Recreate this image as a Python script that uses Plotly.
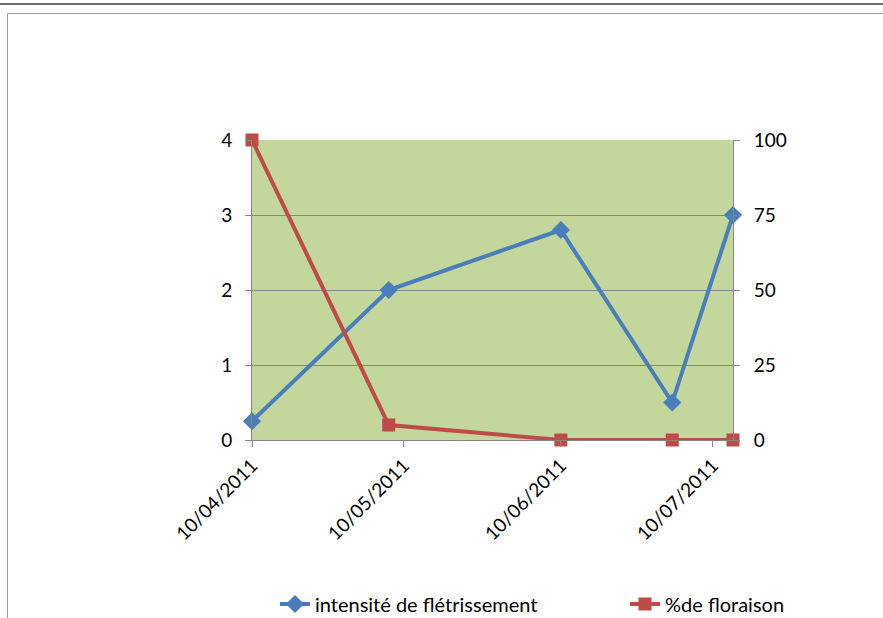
import plotly.graph_objects as go

dates = ["2011-04-10", "2011-05-07", "2011-06-10", "2011-07-02", "2011-07-14"]
intensite = [0.25, 2.0, 2.8, 0.5, 3.0]
floraison = [100, 5, 0, 0, 0]
x_ticks = ["2011-04-10", "2011-05-10", "2011-06-10", "2011-07-10"]
x_ticktext = ["10/04/2011", "10/05/2011", "10/06/2011", "10/07/2011"]
left_ticks = [0, 1, 2, 3, 4]
right_ticks = [0, 25, 50, 75, 100]

FONT = "Lato, Carlito, Calibri, sans-serif"
AXIS = "#868686"
FS = 19
LFS = 20

fig = go.Figure()
fig.add_trace(go.Scatter(
    x=dates, y=intensite, name="intensité de flétrissement",
    mode="lines+markers", line=dict(color="#4A7EBB", width=4),
    marker=dict(symbol="diamond", size=14, color="#4A7EBB"),
    cliponaxis=False, yaxis="y", legend="legend"))
fig.add_trace(go.Scatter(
    x=dates, y=floraison, name="%de floraison",
    mode="lines+markers", line=dict(color="#BE4B48", width=4),
    marker=dict(symbol="square", size=13, color="#BE4B48"),
    cliponaxis=False, yaxis="y2", legend="legend2"))

leg_y = 1 - 604 / 618.0
fig.update_layout(
    width=883, height=618,
    margin=dict(l=252, r=150, t=140, b=178, autoexpand=False),
    paper_bgcolor="white", plot_bgcolor="#C3D69B",
    font=dict(family=FONT, size=FS, color="black"),
    showlegend=True,
    legend=dict(xref="container", yref="container", x=275 / 883.0, y=leg_y,
                xanchor="left", yanchor="middle", font=dict(size=LFS),
                bgcolor="rgba(0,0,0,0)"),
    legend2=dict(xref="container", yref="container", x=625 / 883.0, y=leg_y,
                 xanchor="left", yanchor="middle", font=dict(size=LFS),
                 bgcolor="rgba(0,0,0,0)"),
    xaxis=dict(type="date", range=["2011-04-10", "2011-07-14"],
               tickvals=x_ticks, ticktext=x_ticktext, tickangle=-45,
               showgrid=False, showline=True, linecolor=AXIS, linewidth=1,
               ticks="outside", ticklen=6, tickcolor=AXIS, zeroline=False,
               tickfont=dict(size=FS)),
    yaxis=dict(range=[0, 4], tickvals=left_ticks, showgrid=True, gridcolor=AXIS,
               gridwidth=1, showline=True, linecolor=AXIS, ticks="outside",
               ticklen=6, tickcolor=AXIS, zeroline=False, ticklabelstandoff=9,
               tickfont=dict(size=FS)),
    yaxis2=dict(range=[0, 100], tickvals=right_ticks, overlaying="y", side="right",
                showgrid=False, showline=True, linecolor=AXIS, ticks="outside",
                ticklen=6, tickcolor=AXIS, zeroline=False, ticklabelstandoff=10,
                tickfont=dict(size=FS)),
)

W, H = 481.0, 300.0
def px(x):
    return (x - 252) / W
def py(y):
    return (440 - y) / H

fig.add_shape(type="line", xref="paper", yref="paper",
              x0=px(0), x1=px(883), y0=py(4), y1=py(4),
              line=dict(color="#6e6e6e", width=2))
fig.add_shape(type="rect", xref="paper", yref="paper",
              x0=px(7.5), x1=px(890), y0=py(13.5), y1=py(630),
              line=dict(color="#9a9a9a", width=1))

fig.write_html("out.html", config={"displayModeBar": False},
               post_script="document.body.style.margin='0';")
